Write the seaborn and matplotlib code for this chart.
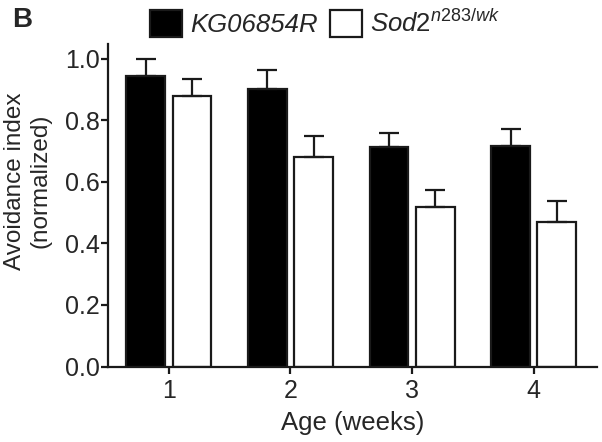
import numpy as np
import pandas as pd
import matplotlib
matplotlib.use("Agg")
import matplotlib.pyplot as plt
from matplotlib.patches import Patch
import seaborn as sns

# values (mean and upper SEM)
ages = ["1", "2", "3", "4"]
strains = ["KG06854R", r"$\mathit{Sod2^{n283/wk}}$"]
kg_mean = [0.946, 0.902, 0.715, 0.718]
kg_sem = [0.054, 0.062, 0.044, 0.054]
sod2_mean = [0.881, 0.680, 0.518, 0.469]
sod2_sem = [0.054, 0.069, 0.057, 0.069]
yticks = [0.0, 0.2, 0.4, 0.6, 0.8, 1.0]

df = pd.DataFrame({
    "age": ages * 2,
    "strain": [strains[0]] * 4 + [strains[1]] * 4,
    "value": kg_mean + sod2_mean,
})

sns.set_style("ticks")
plt.rcParams["font.family"] = ["Liberation Sans", "DejaVu Sans"]
plt.rcParams["mathtext.fontset"] = "custom"
plt.rcParams["mathtext.rm"] = "Liberation Sans"
plt.rcParams["mathtext.it"] = "Liberation Sans:italic"

fig = plt.figure(figsize=(6.02, 4.42), dpi=100)
ax = fig.add_axes([108 / 602, 1 - 366.5 / 442, 489 / 602, 322.9 / 442])

edge = "#1a1a1a"
sns.barplot(data=df, x="age", y="value", hue="strain", hue_order=strains,
            palette=["black", "white"], saturation=1, width=0.76, gap=0.16,
            edgecolor=edge, linewidth=1.6, errorbar=None, legend=False, ax=ax)

# upper-only error bars on top of each bar
for cont, sem in zip(ax.containers, [kg_sem, sod2_sem]):
    xs = [p.get_x() + p.get_width() / 2 for p in cont]
    hs = [p.get_height() for p in cont]
    ax.errorbar(xs, hs, yerr=[np.zeros(len(sem)), sem], fmt="none",
                ecolor=edge, elinewidth=1.6, capsize=7.5, capthick=1.6, zorder=1)

ax.set_xlim(-0.5, 3.52)
ax.set_ylim(0, 1.05)
ax.set_yticks(yticks)
ax.set_yticklabels([f"{t:.1f}" for t in yticks])
sns.despine(ax=ax)
for s in ["left", "bottom"]:
    ax.spines[s].set_linewidth(1.6)
    ax.spines[s].set_color(edge)
ax.tick_params(direction="out", length=5, width=1.6, color=edge, labelsize=18)
ax.tick_params(axis="y", pad=1)
ax.tick_params(axis="x", pad=4)

ax.set_xlabel("Age (weeks)", fontsize=18.5, labelpad=6)
ax.set_ylabel("Avoidance index\n(normalized)", fontsize=17.5)
ax.yaxis.set_label_coords(-0.115, 0.574)

handles = [Patch(facecolor="black", edgecolor=edge, linewidth=1.6),
           Patch(facecolor="white", edgecolor=edge, linewidth=1.6)]
fig.legend(handles, strains, loc="center", bbox_to_anchor=(0.54, 0.946),
           ncol=2, frameon=False, prop={"style": "italic", "size": 18.5},
           handlelength=1.25, handleheight=1.25, handletextpad=0.3,
           columnspacing=0.5, borderaxespad=0)

fig.text(12 / 602, 1 - 7 / 442, "B", fontsize=20, fontweight="bold",
         ha="left", va="top")

fig.savefig("out.png", dpi=100)
